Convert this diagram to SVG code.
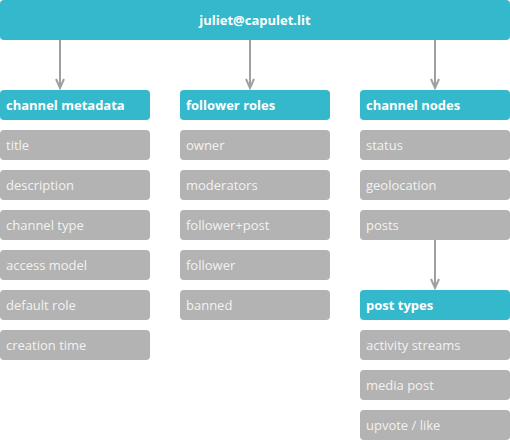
<svg xmlns="http://www.w3.org/2000/svg" width="510" height="440" viewBox="0 0 510 440">
<style>
.h rect{fill:#33b9cb}
.i rect{fill:#b3b3b3}
text{font-family:"Open Sans","Liberation Sans",sans-serif;font-size:13px}
.h text{fill:#fff;font-weight:bold}
.i text{fill:#f2f2f2}
.c line{stroke:#a0a0a0;stroke-width:2;marker-end:url(#a)}
</style>
<defs>
<marker id="a" viewBox="0 0 12 12" refX="10" refY="6" markerWidth="12" markerHeight="12" markerUnits="userSpaceOnUse" orient="auto">
<path d="M1,2 L10,6 L1,10" fill="none" stroke="#a0a0a0" stroke-width="2"/>
</marker>
</defs>
<g id="root" class="h"><rect x="0" y="0" width="510" height="40" rx="4"/><text x="255" y="25" text-anchor="middle">juliet@capulet.lit</text></g>
<g class="c">
<line x1="60" y1="40" x2="60" y2="88"/>
<line x1="250" y1="40" x2="250" y2="88"/>
<line x1="435" y1="40" x2="435" y2="88"/>
<line x1="435" y1="240" x2="435" y2="288"/>
</g>
<g id="channel-metadata" class="h"><rect x="0" y="90" width="150" height="30" rx="4"/><text x="6" y="110">channel metadata</text></g>
<g id="title" class="i"><rect x="0" y="130" width="150" height="30" rx="4"/><text x="6" y="150">title</text></g>
<g id="description" class="i"><rect x="0" y="170" width="150" height="30" rx="4"/><text x="6" y="190">description</text></g>
<g id="channel-type" class="i"><rect x="0" y="210" width="150" height="30" rx="4"/><text x="6" y="230">channel type</text></g>
<g id="access-model" class="i"><rect x="0" y="250" width="150" height="30" rx="4"/><text x="6" y="270">access model</text></g>
<g id="default-role" class="i"><rect x="0" y="290" width="150" height="30" rx="4"/><text x="6" y="310">default role</text></g>
<g id="creation-time" class="i"><rect x="0" y="330" width="150" height="30" rx="4"/><text x="6" y="350">creation time</text></g>
<g id="follower-roles" class="h"><rect x="180" y="90" width="150" height="30" rx="4"/><text x="186" y="110">follower roles</text></g>
<g id="owner" class="i"><rect x="180" y="130" width="150" height="30" rx="4"/><text x="186" y="150">owner</text></g>
<g id="moderators" class="i"><rect x="180" y="170" width="150" height="30" rx="4"/><text x="186" y="190">moderators</text></g>
<g id="follower-post" class="i"><rect x="180" y="210" width="150" height="30" rx="4"/><text x="186" y="230">follower+post</text></g>
<g id="follower" class="i"><rect x="180" y="250" width="150" height="30" rx="4"/><text x="186" y="270">follower</text></g>
<g id="banned" class="i"><rect x="180" y="290" width="150" height="30" rx="4"/><text x="186" y="310">banned</text></g>
<g id="channel-nodes" class="h"><rect x="360" y="90" width="150" height="30" rx="4"/><text x="366" y="110">channel nodes</text></g>
<g id="status" class="i"><rect x="360" y="130" width="150" height="30" rx="4"/><text x="366" y="150">status</text></g>
<g id="geolocation" class="i"><rect x="360" y="170" width="150" height="30" rx="4"/><text x="366" y="190">geolocation</text></g>
<g id="posts" class="i"><rect x="360" y="210" width="150" height="30" rx="4"/><text x="366" y="230">posts</text></g>
<g id="post-types" class="h"><rect x="360" y="290" width="150" height="30" rx="4"/><text x="366" y="310">post types</text></g>
<g id="activity-streams" class="i"><rect x="360" y="330" width="150" height="30" rx="4"/><text x="366" y="350">activity streams</text></g>
<g id="media-post" class="i"><rect x="360" y="370" width="150" height="30" rx="4"/><text x="366" y="390">media post</text></g>
<g id="upvote-like" class="i"><rect x="360" y="410" width="150" height="30" rx="4"/><text x="366" y="430">upvote / like</text></g>
</svg>
